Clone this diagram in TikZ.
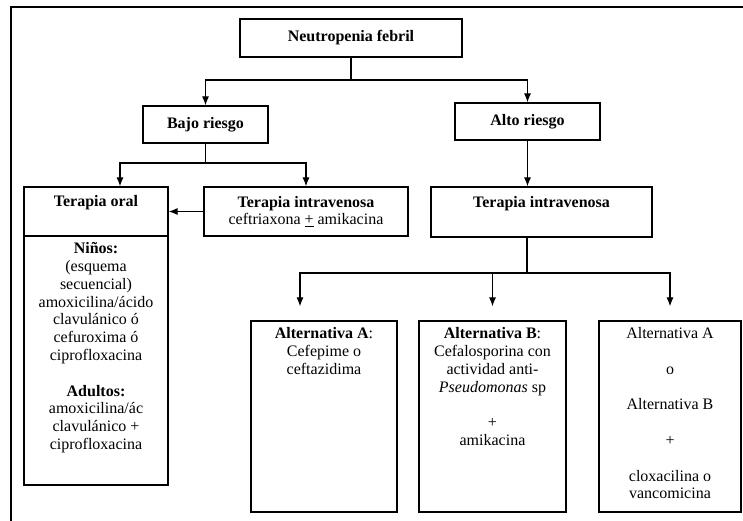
\documentclass[tikz,border=0pt]{standalone}
\usepackage{fontspec}
\setmainfont{Liberation Serif}
\usetikzlibrary{arrows.meta,positioning}

\begin{document}
\begin{tikzpicture}[x=1pt, y=-1pt,
    caja/.style={draw, line width=1.2pt, inner sep=0pt, align=center,
        font=\fontsize{16}{17.8}\selectfont},
    texto/.style={inner sep=0pt, align=center, font=\fontsize{16}{17.8}\selectfont},
    linea/.style={line width=1.1pt},
    flecha/.style={line width=1.1pt, -{Latex[length=9pt,width=7pt]}}]
    \useasboundingbox (0,0) rectangle (743,521);
    % marco
    \draw[linea] (743,7) -- (11,7) -- (11,521);
    % niveles superiores
    \node[caja, minimum width=222, minimum height=38] (neutro) at (351,38) {\textbf{Neutropenia febril}};
    \node[caja, minimum width=125, minimum height=37] (bajo) at (205.5,124.5) {\textbf{Bajo riesgo}};
    \node[caja, minimum width=145, minimum height=37] (alto) at (527.5,121.5) {\textbf{Alto riesgo}};
    \coordinate (j1) at (351,80);
    \draw[linea] (neutro) -- (j1);
    \draw[flecha] (j1) -| (bajo);
    \draw[flecha] (j1) -| (alto);
    % bajo riesgo
    \node[caja, minimum width=144, minimum height=49] (oraltop) at (96,211.5) {};
    \node[caja, minimum width=144, minimum height=249] (oralbody) at (96,360.5) {};
    \node[texto, below=9pt of oraltop.north] (oraltit) {\textbf{Terapia oral}};
    \node[texto, below=7pt of oralbody.north] (oraltxt) {\textbf{Niños:}\\ (esquema\\ secuencial)\\
        amoxicilina/ácido\\ clavulánico ó\\ cefuroxima ó\\ ciprofloxacina\\[17.8pt]
        \textbf{Adultos:}\\ amoxicilina/ác\\ clavulánico +\\ ciprofloxacina};
    \node[caja, minimum width=204, minimum height=49] (ivl) at (306,211.5)
        {\textbf{Terapia intravenosa}\\ ceftriaxona \underline{+} amikacina};
    \coordinate (j2) at (205.5,163);
    \draw[linea] (bajo) -- (j2);
    \draw[flecha] (j2) -| ([xshift=24pt]oraltop.north);
    \draw[flecha] (j2) -| (ivl);
    \draw[flecha] (ivl) -- (oraltop);
    % alto riesgo
    \node[caja, minimum width=221, minimum height=50] (ivr) at (541.5,212) {};
    \node[texto, below=10pt of ivr.north] (ivrtit) {\textbf{Terapia intravenosa}};
    \draw[flecha] (alto) -- (alto |- ivr.north);
    \node[caja, minimum width=146, minimum height=191] (altA) at (324,416.5) {};
    \node[caja, minimum width=147, minimum height=191] (altB) at (492.5,416.5) {};
    \node[caja, minimum width=142, minimum height=191] (altC) at (670,416.5) {};
    \node[texto, below=7pt of altA.north] (altAtxt) {\textbf{Alternativa A}:\\ Cefepime o\\ ceftazidima};
    \node[texto, below=7pt of altB.north] (altBtxt) {\textbf{Alternativa B}:\\ Cefalosporina con\\
        actividad anti-\\ \textit{Pseudomonas} sp\\[17.8pt] +\\ amikacina};
    \node[texto, below=7pt of altC.north] (altCtxt) {Alternativa A\\[17.8pt] o\\[17.8pt]
        Alternativa B\\[17.8pt] +\\[17.8pt] cloxacilina o\\ vancomicina};
    \coordinate (j3) at (527,273);
    \draw[linea] (ivr.south -| j3) -- (j3);
    \draw[flecha, shorten >=14pt] (j3) -| ([xshift=-24pt]altA.north);
    \draw[flecha, shorten >=14pt] (j3) -| (altB);
    \draw[flecha, shorten >=14pt] (j3) -| (altC);
\end{tikzpicture}
\end{document}
